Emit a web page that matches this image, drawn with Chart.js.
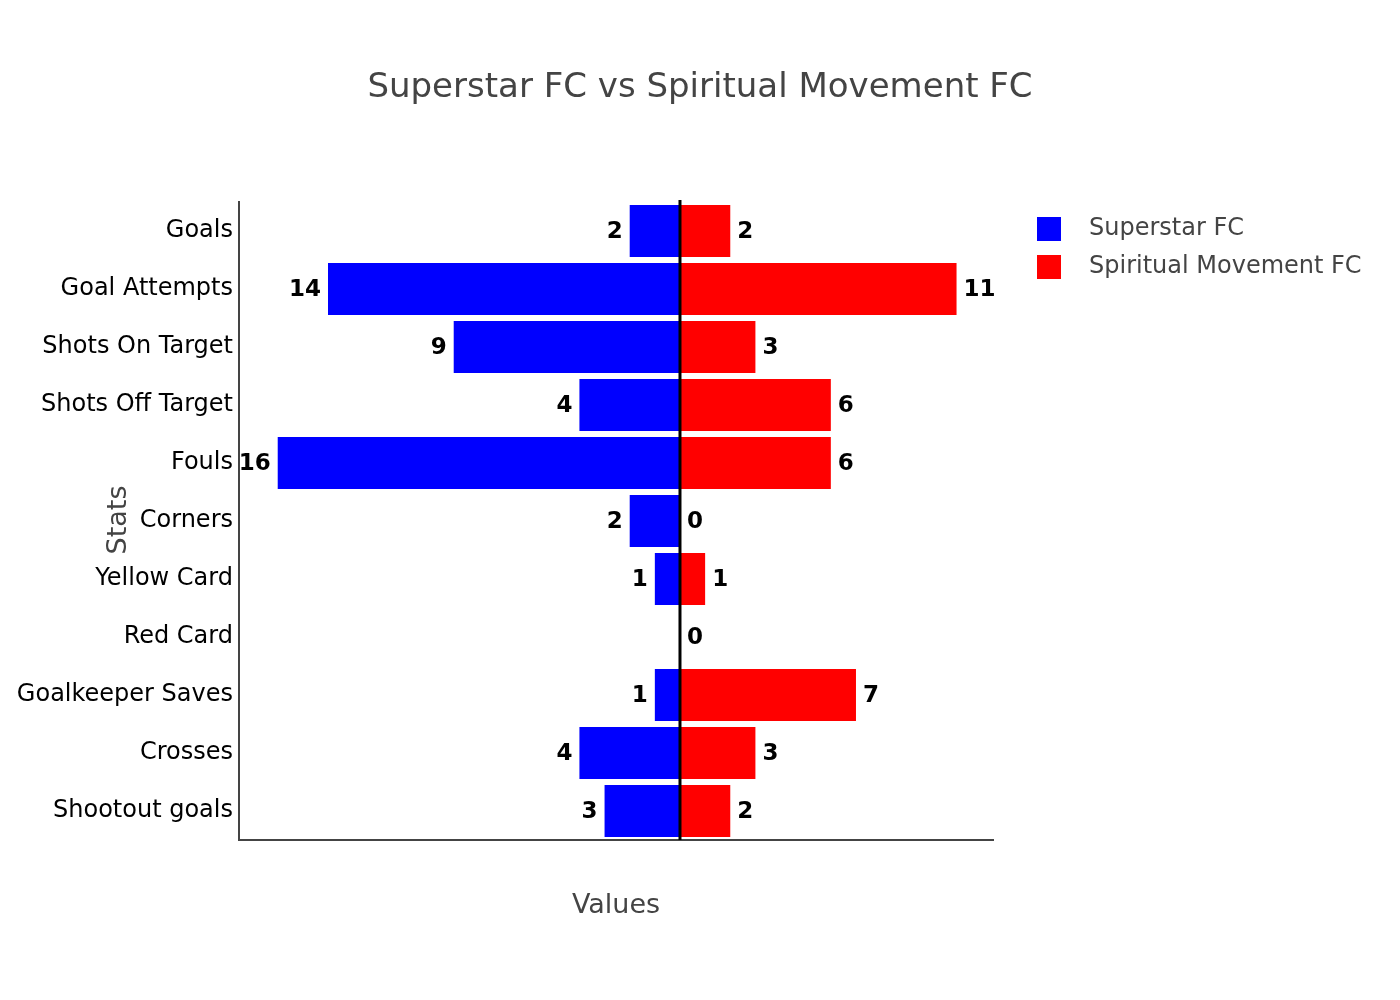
<!DOCTYPE html>
<html>
<head>
<meta charset="utf-8">
<script src="https://cdn.jsdelivr.net/npm/chart.js@4"></script>
<style>
  html, body { margin: 0; padding: 0; background: #fff; }
  #c { display: block; }
</style>
</head>
<body>
<canvas id="c" width="1400" height="1000"></canvas>
<script>
const stats = ['Goals', 'Goal Attempts', 'Shots On Target', 'Shots Off Target', 'Fouls', 'Corners',
  'Yellow Card', 'Red Card', 'Goalkeeper Saves', 'Crosses', 'Shootout goals'];
const superstar = [2, 14, 9, 4, 16, 2, 1, 0, 1, 4, 3];
const spiritual = [2, 11, 3, 6, 6, 0, 1, 0, 7, 3, 2];

const FONT = "'DejaVu Sans', Verdana, sans-serif";
const blue = '#0000ff';
const red = '#ff0000';
const grey = '#444';

// Zero line, value labels, titles and legend drawn by hand to match the layout.
const decorations = {
  id: 'decorations',
  afterDatasetsDraw(chart) {
    const { ctx, chartArea, scales } = chart;
    const x0 = scales.x.getPixelForValue(0);

    ctx.save();
    ctx.strokeStyle = '#000';
    ctx.lineWidth = 3;
    ctx.beginPath();
    ctx.moveTo(x0, chartArea.top - 2);
    ctx.lineTo(x0, chartArea.bottom);
    ctx.stroke();

    ctx.fillStyle = '#000';
    ctx.font = 'bold 23px ' + FONT;
    ctx.textBaseline = 'middle';
    chart.data.datasets.forEach((ds, di) => {
      const meta = chart.getDatasetMeta(di);
      meta.data.forEach((bar, i) => {
        const v = Math.abs(ds.data[i]);
        if (di === 0) {
          if (v === 0) return;
          ctx.textAlign = 'right';
          ctx.fillText(String(v), scales.x.getPixelForValue(-v) - 7, bar.y + 1);
        } else {
          ctx.textAlign = 'left';
          ctx.fillText(String(v), scales.x.getPixelForValue(v) + 7, bar.y + 1);
        }
      });
    });
    ctx.restore();
  },
  afterDraw(chart) {
    const { ctx, chartArea } = chart;
    ctx.save();
    ctx.fillStyle = grey;
    ctx.textAlign = 'center';
    ctx.textBaseline = 'middle';

    ctx.font = '34px ' + FONT;
    ctx.fillText('Superstar FC vs Spiritual Movement FC', 700, 88);

    ctx.font = '27px ' + FONT;
    ctx.fillText('Values', (chartArea.left + chartArea.right) / 2, 906);

    ctx.translate(119, 520);
    ctx.rotate(-Math.PI / 2);
    ctx.fillText('Stats', 0, 0);
    ctx.restore();

    // legend
    ctx.save();
    ctx.font = '24px ' + FONT;
    ctx.textAlign = 'left';
    ctx.textBaseline = 'middle';
    [['Superstar FC', blue, 229], ['Spiritual Movement FC', red, 267]].forEach(([label, color, y]) => {
      ctx.fillStyle = color;
      ctx.fillRect(1037, y - 12, 24, 24);
      ctx.fillStyle = grey;
      ctx.fillText(label, 1089, y);
    });
    ctx.restore();
  }
};

new Chart(document.getElementById('c'), {
  type: 'bar',
  data: {
    labels: stats,
    datasets: [
      { label: 'Superstar FC', data: superstar.map(v => -v), backgroundColor: blue },
      { label: 'Spiritual Movement FC', data: spiritual, backgroundColor: red },
    ],
  },
  options: {
    indexAxis: 'y',
    responsive: false,
    animation: false,
    devicePixelRatio: 1,
    layout: { padding: { top: 202, right: 407, left: 0, bottom: 0 } },
    datasets: { bar: { categoryPercentage: 1, barPercentage: 0.9 } },
    plugins: { legend: { display: false }, tooltip: { enabled: false } },
    scales: {
      x: {
        stacked: true,
        min: -17.54,
        max: 12.45,
        ticks: { display: false },
        grid: { display: false, drawTicks: false },
        border: { display: true, color: grey, width: 2 },
        afterFit: (scale) => { scale.height = 160; },
      },
      y: {
        stacked: true,
        ticks: { color: '#000', font: { family: FONT, size: 24 }, padding: 6 },
        grid: { display: false, drawTicks: false },
        border: { display: true, color: grey, width: 2 },
        afterFit: (scale) => { scale.width = 239; },
      },
    },
  },
  plugins: [decorations],
});
</script>
</body>
</html>
